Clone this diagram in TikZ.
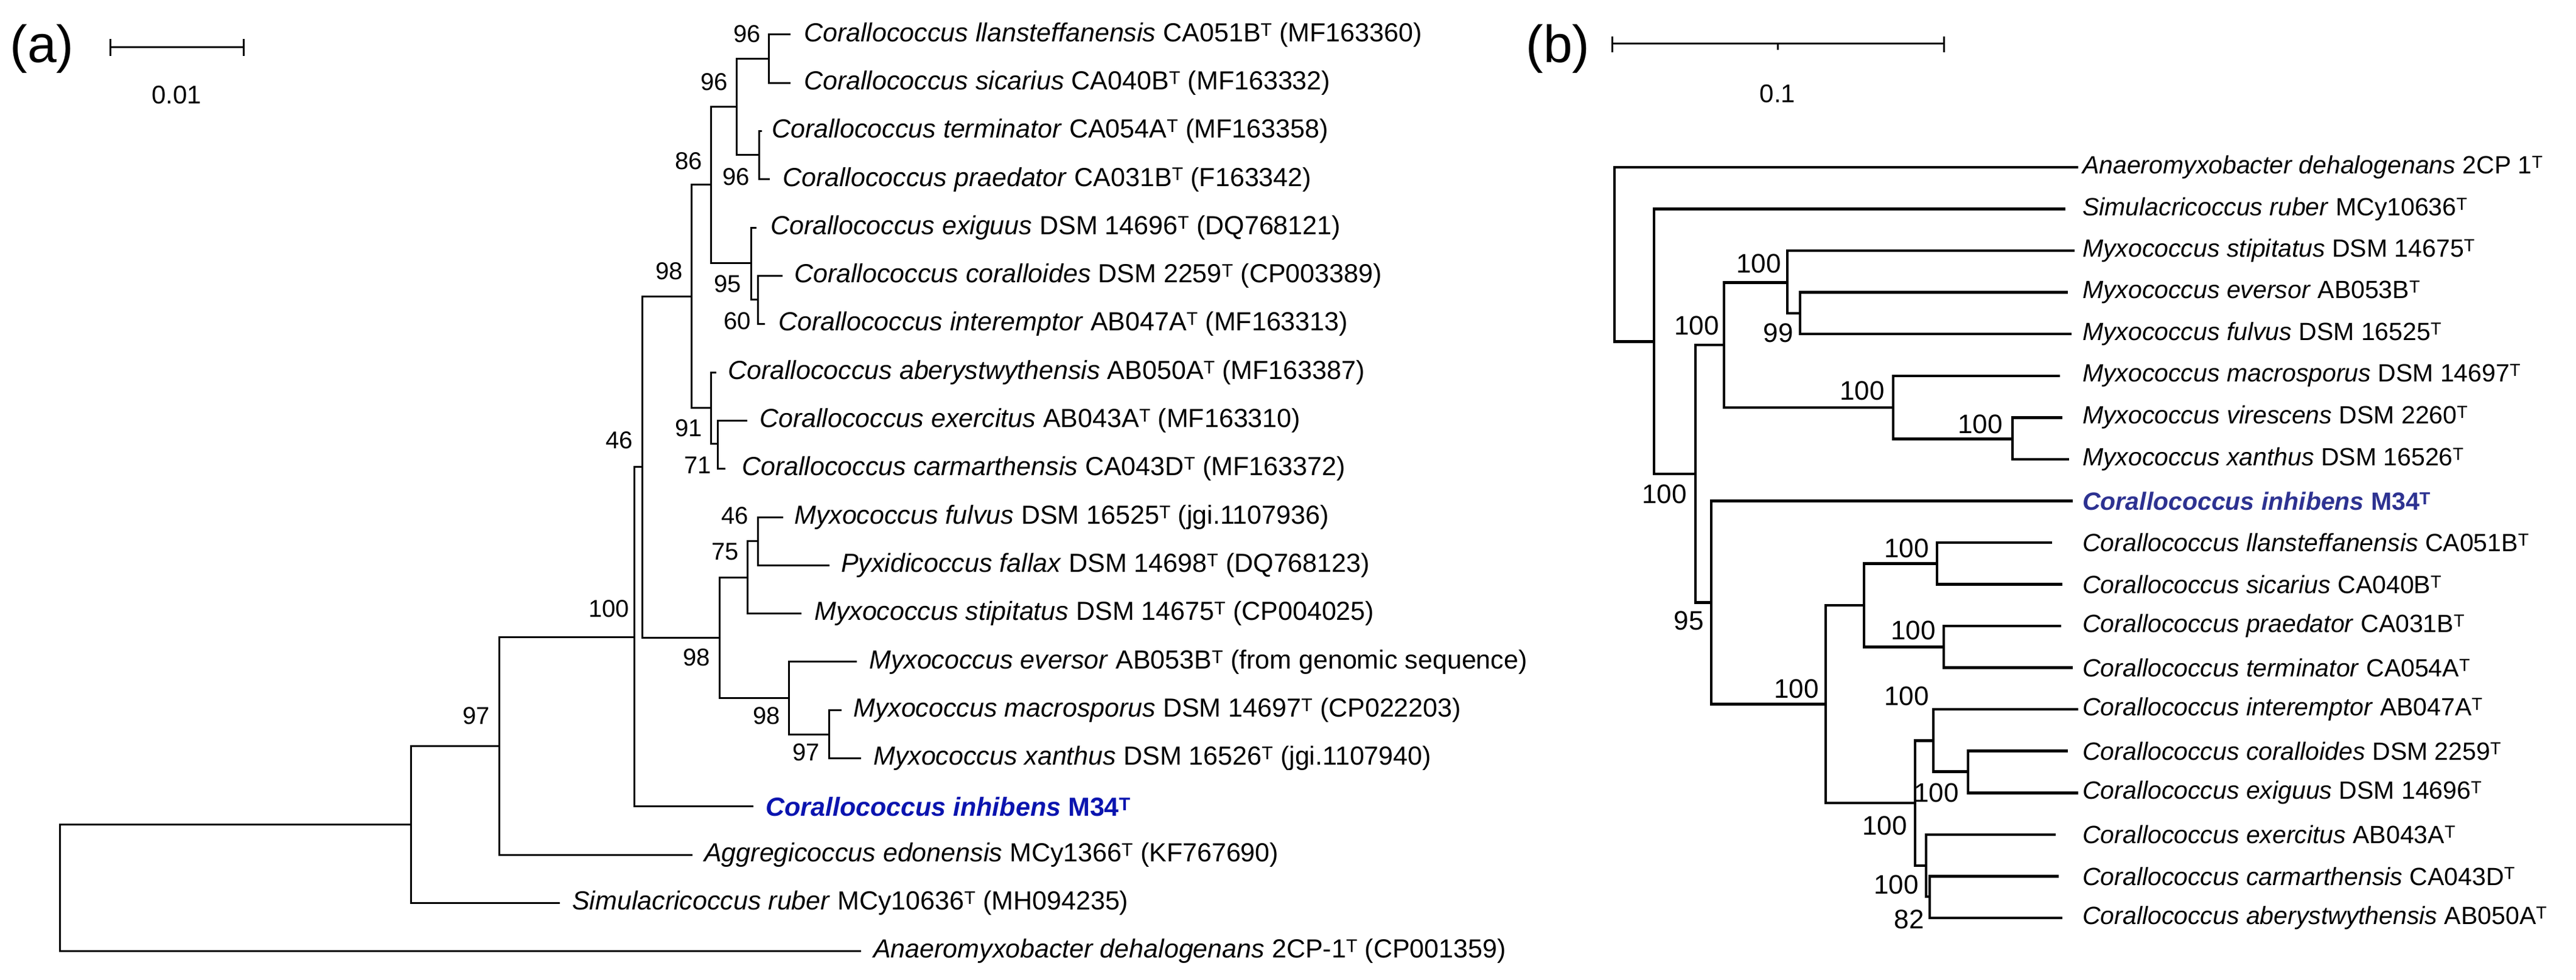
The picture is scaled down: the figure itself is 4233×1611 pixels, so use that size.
\documentclass[tikz,border=0pt]{standalone}
\usepackage{fontspec}
\setmainfont{Liberation Sans}
\definecolor{blueA}{RGB}{10,20,175}
\definecolor{blueB}{RGB}{45,50,145}
\begin{document}
\begin{tikzpicture}[x=1pt,y=-1pt,
  la/.style={anchor=west,inner sep=0pt,font=\fontsize{43}{50}\selectfont},
  lb/.style={anchor=west,inner sep=0pt,font=\fontsize{41}{48}\selectfont},
  bsa/.style={anchor=east,inner sep=0pt,font=\fontsize{40}{48}\selectfont},
  bsb/.style={anchor=east,inner sep=0pt,font=\fontsize{44}{50}\selectfont},
  ea/.style={line width=3pt},
  eb/.style={line width=4.5pt},
  pl/.style={inner sep=0pt,font=\fontsize{86}{96}\selectfont},
  sc/.style={inner sep=0pt,font=\fontsize{42}{48}\selectfont}]
\useasboundingbox (0,0) rectangle (4233,1611);
% ---------- panel labels and scale bars
\node[pl] (pa) at (69,80) {(a)};
\node[pl] (pb) at (2560,80) {(b)};
\coordinate (sa1) at (181,78); \coordinate (sa2) at (400,78);
\draw[ea] (sa1) -- (sa2) (181,64) -- (181,92) (400,64) -- (400,92);
\node[sc] (sal) at (290,156) {0.01};
\coordinate (sb1) at (2649,72); \coordinate (sb2) at (3194,72);
\draw[line width=3pt] (sb1) -- (sb2) (2649,60) -- (2649,86) (3194,60) -- (3194,86) (2921,72) -- (2921,82);
\node[sc] (sbl) at (2921,154) {0.1};
% ---------- panel (a)
\foreach \i/\tx/\lx in {1/1299/1321,2/1299/1321,3/1252/1268,4/1265/1286,5/1243/1266,6/1286/1305,7/1257/1279,8/1177/1196,9/1228/1248,10/1192/1219,11/1287/1305,12/1363/1382,13/1317/1338,14/1408/1428,15/1383/1402,16/1415/1435,17/1238/1258,18/1138/1157,19/920/940,20/1415/1435}{
  \pgfmathsetmacro{\yy}{57+79.3*(\i-1)}
  \coordinate (a\i) at (\tx,\yy);
  \coordinate (al\i) at (\lx,\yy);
}
\node[la] (ta1) at (al1) {\textit{Corallococcus llansteffanensis} CA051B\textsuperscript{T} (MF163360)};
\node[la] (ta2) at (al2) {\textit{Corallococcus sicarius} CA040B\textsuperscript{T} (MF163332)};
\node[la] (ta3) at (al3) {\textit{Corallococcus terminator} CA054A\textsuperscript{T} (MF163358)};
\node[la] (ta4) at (al4) {\textit{Corallococcus praedator} CA031B\textsuperscript{T} (F163342)};
\node[la] (ta5) at (al5) {\textit{Corallococcus exiguus} DSM 14696\textsuperscript{T} (DQ768121)};
\node[la] (ta6) at (al6) {\textit{Corallococcus coralloides} DSM 2259\textsuperscript{T} (CP003389)};
\node[la] (ta7) at (al7) {\textit{Corallococcus interemptor} AB047A\textsuperscript{T} (MF163313)};
\node[la] (ta8) at (al8) {\textit{Corallococcus aberystwythensis} AB050A\textsuperscript{T} (MF163387)};
\node[la] (ta9) at (al9) {\textit{Corallococcus exercitus} AB043A\textsuperscript{T} (MF163310)};
\node[la] (ta10) at (al10) {\textit{Corallococcus carmarthensis} CA043D\textsuperscript{T} (MF163372)};
\node[la] (ta11) at (al11) {\textit{Myxococcus fulvus} DSM 16525\textsuperscript{T} (jgi.1107936)};
\node[la] (ta12) at (al12) {\textit{Pyxidicoccus fallax} DSM 14698\textsuperscript{T} (DQ768123)};
\node[la] (ta13) at (al13) {\textit{Myxococcus stipitatus} DSM 14675\textsuperscript{T} (CP004025)};
\node[la] (ta14) at (al14) {\textit{Myxococcus eversor} AB053B\textsuperscript{T} (from genomic sequence)};
\node[la] (ta15) at (al15) {\textit{Myxococcus macrosporus} DSM 14697\textsuperscript{T} (CP022203)};
\node[la] (ta16) at (al16) {\textit{Myxococcus xanthus} DSM 16526\textsuperscript{T} (jgi.1107940)};
\node[la,text=blueA,font=\fontsize{43}{50}\selectfont\bfseries] (ta17) at (al17) {\textit{Corallococcus inhibens} M34\textsuperscript{T}};
\node[la] (ta18) at (al18) {\textit{Aggregicoccus edonensis} MCy1366\textsuperscript{T} (KF767690)};
\node[la] (ta19) at (al19) {\textit{Simulacricoccus ruber} MCy10636\textsuperscript{T} (MH094235)};
\node[la] (ta20) at (al20) {\textit{Anaeromyxobacter dehalogenans} 2CP-1\textsuperscript{T} (CP001359)};
% internal nodes (x, midpoint y)
\coordinate (n12) at (1263,96.6);
\coordinate (n34) at (1247,254.2);
\coordinate (n1234) at (1210,175.4);
\coordinate (n67) at (1245,492.3);
\coordinate (n567) at (1234,432.2);
\coordinate (n17) at (1168,303.8);
\coordinate (n910) at (1179,729.1);
\coordinate (n810) at (1168,670.4);
\coordinate (nCor) at (1136,487.1);
\coordinate (n1112) at (1245,889.6);
\coordinate (n1113) at (1228,949.2);
\coordinate (n1516) at (1362,1207.3);
\coordinate (n1416) at (1296,1147.7);
\coordinate (nMyx) at (1182,1048.5);
\coordinate (nY) at (1055,767.8);
\coordinate (nX) at (1042,1047.0);
\coordinate (n97) at (820,1226.5);
\coordinate (n675) at (675,1355.9);
\coordinate (nR) at (98,1460);
\begin{scope}[ea]
\draw (a1) -| (n12); \draw (a2) -| (n12);
\draw (a3) -| (n34); \draw (a4) -| (n34);
\draw (n12) -| (n1234); \draw (n34) -| (n1234);
\draw (a6) -| (n67); \draw (a7) -| (n67);
\draw (a5) -| (n567); \draw (n67) -| (n567);
\draw (n1234) -| (n17); \draw (n567) -| (n17);
\draw (a9) -| (n910); \draw (a10) -| (n910);
\draw (a8) -| (n810); \draw (n910) -| (n810);
\draw (n17) -| (nCor); \draw (n810) -| (nCor);
\draw (a11) -| (n1112); \draw (a12) -| (n1112);
\draw (n1112) -| (n1113); \draw (a13) -| (n1113);
\draw (a15) -| (n1516); \draw (a16) -| (n1516);
\draw (a14) -| (n1416); \draw (n1516) -| (n1416);
\draw (n1113) -| (nMyx); \draw (n1416) -| (nMyx);
\draw (nCor) -| (nY); \draw (nMyx) -| (nY);
\draw (nY) -| (nX); \draw (a17) -| (nX);
\draw (nX) -| (n97); \draw (a18) -| (n97);
\draw (n97) -| (n675); \draw (a19) -| (n675);
\draw (n675) -| (nR); \draw (a20) -| (nR);
\end{scope}
\foreach \t/\x/\y in {96/1250/56,96/1196/135,96/1232/291,86/1154/265,95/1218/467,60/1234/528,98/1122/446,91/1154/704,71/1169/765,46/1040/724,100/1034/1001,97/805/1177,46/1230/848,75/1214/907,98/1167/1081,98/1282/1177,97/1347/1237}
  {\node[bsa] at (\x,\y) {\t};}
% ---------- panel (b)
\foreach \i/\tx in {1/3415,2/3394,3/3409,4/3398,5/3404,6/3385,7/3389,8/3400,9/3406,10/3372,11/3389,12/3387,13/3406,14/3415,15/3398,16/3415,17/3378,18/3383,19/3389}{
  \pgfmathsetmacro{\yy}{275+68.55*(\i-1)}
  \coordinate (b\i) at (\tx,\yy);
  \coordinate (bl\i) at (3422,\yy);
}
\node[lb] (tb1) at (bl1) {\textit{Anaeromyxobacter dehalogenans} 2CP 1\textsuperscript{T}};
\node[lb] (tb2) at (bl2) {\textit{Simulacricoccus ruber} MCy10636\textsuperscript{T}};
\node[lb] (tb3) at (bl3) {\textit{Myxococcus stipitatus} DSM 14675\textsuperscript{T}};
\node[lb] (tb4) at (bl4) {\textit{Myxococcus eversor} AB053B\textsuperscript{T}};
\node[lb] (tb5) at (bl5) {\textit{Myxococcus fulvus} DSM 16525\textsuperscript{T}};
\node[lb] (tb6) at (bl6) {\textit{Myxococcus macrosporus} DSM 14697\textsuperscript{T}};
\node[lb] (tb7) at (bl7) {\textit{Myxococcus virescens} DSM 2260\textsuperscript{T}};
\node[lb] (tb8) at (bl8) {\textit{Myxococcus xanthus} DSM 16526\textsuperscript{T}};
\node[lb,text=blueB,font=\fontsize{41}{48}\selectfont\bfseries] (tb9) at (bl9) {\textit{Corallococcus inhibens} M34\textsuperscript{T}};
\node[lb] (tb10) at (bl10) {\textit{Corallococcus llansteffanensis} CA051B\textsuperscript{T}};
\node[lb] (tb11) at (bl11) {\textit{Corallococcus sicarius} CA040B\textsuperscript{T}};
\node[lb] (tb12) at (bl12) {\textit{Corallococcus praedator} CA031B\textsuperscript{T}};
\node[lb] (tb13) at (bl13) {\textit{Corallococcus terminator} CA054A\textsuperscript{T}};
\node[lb] (tb14) at (bl14) {\textit{Corallococcus interemptor} AB047A\textsuperscript{T}};
\node[lb] (tb15) at (bl15) {\textit{Corallococcus coralloides} DSM 2259\textsuperscript{T}};
\node[lb] (tb16) at (bl16) {\textit{Corallococcus exiguus} DSM 14696\textsuperscript{T}};
\node[lb] (tb17) at (bl17) {\textit{Corallococcus exercitus} AB043A\textsuperscript{T}};
\node[lb] (tb18) at (bl18) {\textit{Corallococcus carmarthensis} CA043D\textsuperscript{T}};
\node[lb] (tb19) at (bl19) {\textit{Corallococcus aberystwythensis} AB050A\textsuperscript{T}};
\coordinate (m45) at (2958,515.1);
\coordinate (m35) at (2937,464.6);
\coordinate (m78) at (3307,721.5);
\coordinate (m68) at (3111,669.8);
\coordinate (mMy) at (2833,567.2);
\coordinate (m1011) at (3183,926.5);
\coordinate (m1213) at (3194,1063.6);
\coordinate (m1013) at (3063,995.0);
\coordinate (m1516) at (3234,1268.7);
\coordinate (m1416) at (3177,1217.4);
\coordinate (m1819) at (3171,1474.2);
\coordinate (m1719) at (3165,1423.0);
\coordinate (m1419) at (3147,1320.2);
\coordinate (mCo) at (3000,1157.6);
\coordinate (mIn) at (2812,990.3);
\coordinate (mMI) at (2786,778.8);
\coordinate (m2) at (2718,561.4);
\coordinate (mR) at (2653,418.2);
\begin{scope}[eb]
\draw (b4) -| (m45); \draw (b5) -| (m45);
\draw (b3) -| (m35); \draw (m45) -| (m35);
\draw (b7) -| (m78); \draw (b8) -| (m78);
\draw (b6) -| (m68); \draw (m78) -| (m68);
\draw (m35) -| (mMy); \draw (m68) -| (mMy);
\draw (b10) -| (m1011); \draw (b11) -| (m1011);
\draw (b12) -| (m1213); \draw (b13) -| (m1213);
\draw (m1011) -| (m1013); \draw (m1213) -| (m1013);
\draw (b15) -| (m1516); \draw (b16) -| (m1516);
\draw (b14) -| (m1416); \draw (m1516) -| (m1416);
\draw (b18) -| (m1819); \draw (b19) -| (m1819);
\draw (b17) -| (m1719); \draw (m1819) -| (m1719);
\draw (m1416) -| (m1419); \draw (m1719) -| (m1419);
\draw (m1013) -| (mCo); \draw (m1419) -| (mCo);
\draw (b9) -| (mIn); \draw (mCo) -| (mIn);
\draw (mMy) -| (mMI); \draw (mIn) -| (mMI);
\draw (b2) -| (m2); \draw (mMI) -| (m2);
\draw (b1) -| (mR); \draw (m2) -| (mR);
\end{scope}
\foreach \t/\x/\y in {100/2927/433,100/2825/535,99/2947/547,100/2772/812,95/2800/1020,100/2989/1132,100/3097/642,100/3291/697,100/3170/901,100/3181/1036,100/3170/1144,100/3219/1303,100/3134/1357,100/3153/1454,82/3162/1511}
  {\node[bsb] at (\x,\y) {\t};}
\end{tikzpicture}
\end{document}
